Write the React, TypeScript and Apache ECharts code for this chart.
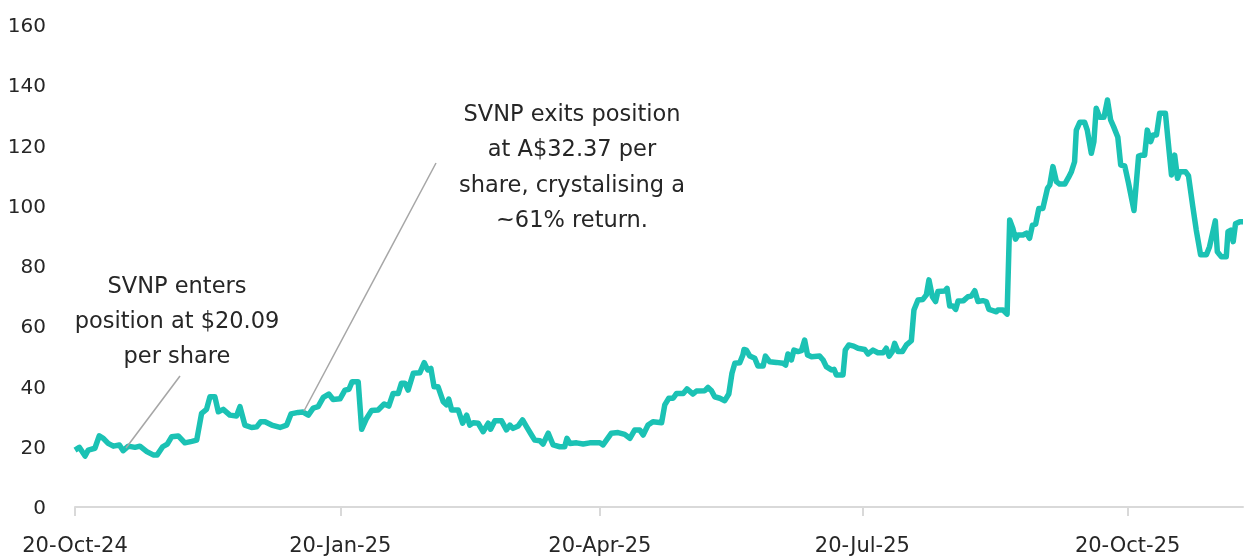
import React, { useEffect, useRef } from "react";
import * as echarts from "echarts";

// x = days since 20-Oct-24, y = share price index
const q4_2024: [number, number][] = [
  [0.0, 18.9], [1.5, 19.8], [3.5, 16.9], [4.6, 18.9], [6.9, 19.5], [8.4, 23.6], [9.8, 22.8],
  [11.5, 21.1], [13.3, 20.2], [15.4, 20.6], [16.7, 18.7], [18.5, 20.2], [20.8, 19.8], [22.5, 20.2],
  [24.9, 18.4], [27.1, 17.3], [28.5, 17.3], [30.4, 20.0], [32.0, 20.9], [33.5, 23.3], [35.8, 23.6],
  [38.1, 21.3], [40.5, 21.8], [42.2, 22.2], [43.9, 31.1], [45.6, 32.4], [46.8, 36.6], [48.5, 36.6],
  [49.7, 31.6], [51.4, 32.4], [53.7, 30.5], [56.0, 30.2], [57.2, 33.3], [58.9, 27.2], [61.2, 26.4],
  [63.0, 26.6], [64.4, 28.3], [65.9, 28.3], [68.2, 27.2], [71.1, 26.4], [73.4, 27.2], [74.9, 30.9],
  [77.4, 31.4], [79.1, 31.5], [80.9, 30.5], [82.6, 32.8], [84.3, 33.3], [86.1, 36.4], [88.0, 37.5],
  [89.5, 35.7], [91.9, 35.9],
];
const q1_2025: [number, number][] = [
  [93.6, 38.8], [95.0, 39.1], [96.1, 41.6], [98.2, 41.6], [99.4, 25.8], [101.1, 29.4], [102.8, 32.0],
  [105.1, 32.2], [107.2, 34.2], [108.8, 33.5], [110.3, 37.7], [112.1, 37.7], [113.2, 41.1], [114.4, 41.1],
  [115.5, 38.8], [117.3, 44.4], [119.6, 44.6], [121.1, 47.9], [122.3, 45.5], [123.4, 46.0], [124.5, 39.9],
  [125.9, 39.9], [127.7, 34.9], [128.8, 33.9], [129.6, 35.8], [130.6, 32.2], [132.9, 32.2], [134.4, 27.8],
  [135.8, 30.5], [136.9, 27.2], [138.1, 28.0], [139.8, 27.8], [141.5, 25.0], [143.3, 27.8], [144.1, 25.8],
  [145.6, 28.6], [147.9, 28.6], [149.6, 25.6], [150.8, 27.2], [151.9, 26.1], [153.7, 26.9], [155.2, 28.9],
  [156.6, 26.6], [158.3, 23.9], [159.4, 22.2], [161.2, 22.0], [162.3, 20.9], [164.1, 24.5], [165.8, 20.6],
  [168.1, 20.0], [169.8, 20.0], [170.6, 22.8], [171.6, 21.1], [173.9, 21.3], [176.2, 20.9], [178.5, 21.3],
  [182.0, 21.3],
];
const q2_2025: [number, number][] = [
  [183.1, 20.6], [186.0, 24.5], [188.3, 24.7], [190.6, 24.1], [192.4, 22.8], [194.1, 25.6], [195.8, 25.6],
  [197.0, 23.9], [198.7, 27.2], [200.4, 28.3], [203.4, 28.0], [204.5, 33.9], [205.9, 36.1], [207.4, 36.1],
  [208.6, 37.7], [210.9, 37.7], [212.2, 39.2], [214.3, 37.5], [215.5, 38.5], [218.4, 38.6], [219.5, 39.7],
  [220.7, 38.6], [221.8, 36.6], [223.6, 36.1], [225.3, 35.3], [226.7, 37.5], [227.8, 44.4], [228.8, 47.7],
  [230.5, 47.9], [231.6, 50.5], [232.0, 52.3], [232.8, 52.1], [234.0, 50.1], [235.7, 49.4], [236.8, 46.8],
  [238.6, 46.8], [239.4, 50.1], [240.9, 48.2], [243.2, 48.0], [245.5, 47.7], [246.4, 47.1], [247.2, 50.8],
  [248.4, 48.8], [249.3, 52.1], [250.7, 51.6], [251.9, 51.9], [253.0, 55.4], [254.0, 50.5], [255.4, 49.9],
  [258.2, 50.1], [259.4, 48.8], [260.5, 46.6], [262.3, 45.5], [263.2, 45.7], [264.0, 43.8], [266.3, 43.8],
  [267.1, 52.1], [268.3, 53.8], [270.0, 53.4], [271.5, 52.7],
];
const q3_2025: [number, number][] = [
  [273.8, 52.3], [275.0, 50.8], [276.7, 52.1], [278.4, 51.2], [280.2, 51.2], [281.3, 52.7], [282.3, 50.1],
  [283.4, 51.6], [284.2, 54.3], [285.4, 51.6], [286.9, 51.6], [288.3, 53.8], [290.0, 55.2], [290.9, 65.4],
  [292.3, 68.7], [294.0, 68.9], [295.2, 70.4], [296.1, 75.4], [297.3, 69.8], [298.4, 68.2], [299.2, 71.5],
  [301.6, 71.7], [302.4, 72.6], [303.3, 66.7], [304.4, 66.7], [305.4, 65.6], [306.2, 68.4], [308.1, 68.5],
  [309.6, 69.8], [310.8, 70.0], [312.0, 71.8], [313.1, 68.2], [314.8, 68.5], [316.0, 68.2], [316.9, 65.6],
  [318.3, 65.2], [319.5, 64.8], [320.0, 65.4], [321.8, 65.4], [323.2, 64.0], [324.1, 95.3], [325.2, 92.5],
  [326.1, 88.9], [327.0, 90.3], [328.7, 90.3], [329.9, 90.9], [331.0, 89.2], [332.0, 93.6], [333.1, 93.9],
  [334.2, 99.1], [335.6, 99.1], [337.2, 105.8], [338.0, 106.9], [339.1, 113.0], [340.3, 108.0],
  [341.4, 107.2], [343.2, 107.2], [344.5, 109.4], [345.5, 111.3], [346.6, 114.6], [347.2, 125.1],
  [348.4, 127.7], [350.1, 127.7], [351.0, 125.1], [352.4, 117.4], [353.3, 121.3], [354.1, 132.4],
  [355.3, 129.4], [356.8, 129.4], [358.0, 135.1], [359.1, 128.5], [360.2, 126.1], [361.6, 122.7],
  [362.6, 113.5], [364.0, 113.2],
];
const q4_2025: [number, number][] = [
  [365.3, 107.5], [367.2, 98.4], [368.8, 116.5], [369.8, 116.8], [370.9, 116.8], [371.8, 125.1],
  [373.0, 121.3], [373.8, 123.5], [375.0, 123.5], [376.1, 130.7], [378.1, 130.7], [379.0, 121.8],
  [380.2, 110.2], [381.3, 116.8], [382.3, 109.1], [383.1, 111.3], [385.1, 111.3], [386.1, 109.9],
  [387.6, 99.7], [388.8, 91.9], [390.3, 83.7], [392.3, 83.7], [393.4, 86.4], [395.4, 95.0], [396.1, 84.7],
  [397.5, 83.1], [399.2, 83.1], [399.8, 91.4], [400.8, 91.9], [401.6, 88.1], [402.4, 94.0], [403.9, 94.7],
  [405.0, 94.7],
];

const tickDays = [0, 92, 182, 273, 365];
const tickLabels = ["20-Oct-24", "20-Jan-25", "20-Apr-25", "20-Jul-25", "20-Oct-25"];
const yTicks = [0, 20, 40, 60, 80, 100, 120, 140, 160];

const entryNote = "SVNP enters\nposition at $20.09\nper share";
const exitNote = "SVNP exits position\nat A$32.37 per\nshare, crystalising a\n~61% return.";

const FONT = "'DejaVu Sans', sans-serif";
const TEXT_COLOR = "#262626";

export default function App() {
  const ref = useRef<HTMLDivElement>(null);
  useEffect(() => {
    if (!ref.current) return;
    const chart = echarts.init(ref.current, undefined, { renderer: "svg" });
    const data = [...q4_2024, ...q1_2025, ...q2_2025, ...q3_2025, ...q4_2025];
    chart.setOption({
      animation: false,
      grid: { left: 75, right: 2, top: 25, bottom: 52, containLabel: false },
      xAxis: {
        type: "value",
        min: 0,
        max: 405,
        splitLine: { show: false },
        axisLine: { show: true, lineStyle: { color: "#d9d9d9", width: 2 } },
        axisTick: { show: true, length: 9, lineStyle: { color: "#d9d9d9", width: 2 }, customValues: tickDays },
        axisLabel: {
          customValues: tickDays,
          formatter: (v: number) => tickLabels[tickDays.indexOf(Math.round(v))] ?? "",
          color: TEXT_COLOR,
          fontSize: 21,
          fontFamily: FONT,
          margin: 27,
        },
      },
      yAxis: {
        type: "value",
        min: 0,
        max: 160,
        interval: 20,
        splitLine: { show: false },
        axisLine: { show: false },
        axisTick: { show: false },
        axisLabel: {
          color: TEXT_COLOR,
          fontSize: 20,
          fontFamily: FONT,
          margin: 29,
          formatter: (v: number) => (yTicks.includes(v) ? String(v) : ""),
        },
      },
      series: [
        {
          type: "line",
          data,
          showSymbol: false,
          lineStyle: { color: "#1bc2b4", width: 5.5, join: "round" },
          z: 3,
        },
      ],
      graphic: [
        { type: "line", shape: { x1: 180, y1: 376, x2: 126, y2: 448 }, style: { stroke: "#a6a6a6", lineWidth: 1.5 }, z: 5 },
        { type: "line", shape: { x1: 436, y1: 163, x2: 304, y2: 411 }, style: { stroke: "#a6a6a6", lineWidth: 1.5 }, z: 5 },
        {
          type: "text",
          x: 177,
          y: 320,
          style: {
            text: entryNote,
            fill: TEXT_COLOR,
            font: `22.5px ${FONT}`,
            lineHeight: 35,
            align: "center",
            verticalAlign: "middle",
          },
          z: 5,
        },
        {
          type: "text",
          x: 572,
          y: 166,
          style: {
            text: exitNote,
            fill: TEXT_COLOR,
            font: `22.5px ${FONT}`,
            lineHeight: 35.5,
            align: "center",
            verticalAlign: "middle",
          },
          z: 5,
        },
      ],
    });
    return () => chart.dispose();
  }, []);
  return <div ref={ref} style={{ position: "fixed", left: 0, top: 0, width: 1245, height: 559 }} />;
}
